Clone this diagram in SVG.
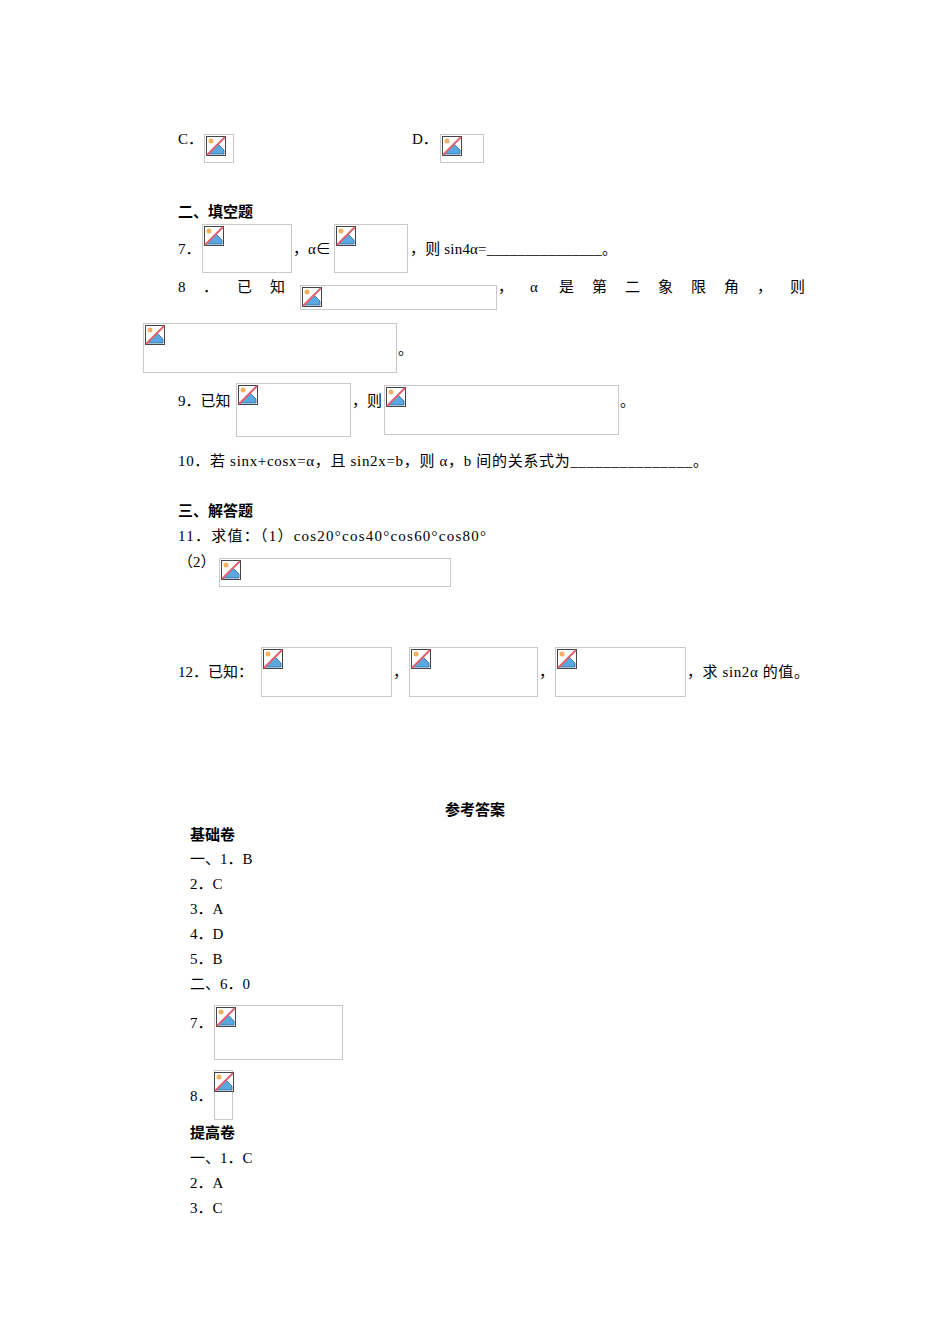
<svg xmlns="http://www.w3.org/2000/svg" width="950" height="1344" viewBox="0 0 950 1344">
<style>
text{font-family:"Liberation Serif","Noto Sans CJK SC",serif;font-size:15px;fill:#000}
.b{font-weight:bold}
.box{fill:#fff;stroke:#c8c8c8;stroke-width:1}
</style>
<defs>
<g id="ic">
<rect x="0.5" y="0.5" width="19" height="19" fill="#fff" stroke="#444"/>
<path d="M2 18 L12 8 L18 14 L18 18 Z" fill="#5aa8e0" stroke="#2a6aa0" stroke-width="0.8"/>
<circle cx="5" cy="5" r="2.5" fill="#f0b060"/>
<line x1="1" y1="19" x2="19" y2="1" stroke="#e06070" stroke-width="2"/>
</g>
</defs>
<rect width="950" height="1344" fill="#fff"/>
<g id="imgs">
<rect class="box" x="204.5" y="134.5" width="29" height="28"/><use href="#ic" x="206" y="136"/>
<rect class="box" x="440.5" y="134.5" width="43" height="28"/><use href="#ic" x="442" y="136"/>
<rect class="box" x="202.5" y="224.5" width="89" height="48"/><use href="#ic" x="204" y="226"/>
<rect class="box" x="334.5" y="224.5" width="73" height="48"/><use href="#ic" x="336" y="226"/>
<rect class="box" x="300.5" y="285.5" width="196" height="24"/><use href="#ic" x="302" y="287"/>
<rect class="box" x="143.5" y="323.5" width="253" height="49"/><use href="#ic" x="145" y="325"/>
<rect class="box" x="236.5" y="383.5" width="114" height="53"/><use href="#ic" x="238" y="385"/>
<rect class="box" x="384.5" y="385.5" width="234" height="49"/><use href="#ic" x="386" y="387"/>
<rect class="box" x="219.5" y="558.5" width="231" height="28"/><use href="#ic" x="221" y="560"/>
<rect class="box" x="261.5" y="647.5" width="130" height="49"/><use href="#ic" x="263" y="649"/>
<rect class="box" x="409.5" y="647.5" width="128" height="49"/><use href="#ic" x="411" y="649"/>
<rect class="box" x="555.5" y="647.5" width="130" height="49"/><use href="#ic" x="557" y="649"/>
<rect class="box" x="214.5" y="1005.5" width="128" height="54"/><use href="#ic" x="216" y="1007"/>
<rect class="box" x="214.5" y="1070.5" width="18" height="49"/><use href="#ic" x="214" y="1072"/>
</g>
<g id="texts">
<text x="178" y="144">C．</text>
<text x="412" y="144">D．</text>
<text x="178" y="217" class="b">二、填空题</text>
<text x="178" y="254">7．</text>
<text x="293" y="254">，α∈</text>
<text x="410" y="254" textLength="207" lengthAdjust="spacing">，则 sin4α=_______________。</text>
<text x="178" y="292">8</text><text x="203" y="292">．</text><text x="237" y="292">已</text><text x="270" y="292">知</text>
<text x="498" y="292">，</text><text x="530" y="292">α</text><text x="559" y="292">是</text><text x="592" y="292">第</text><text x="625" y="292">二</text><text x="658" y="292">象</text><text x="691" y="292">限</text><text x="724" y="292">角</text><text x="757" y="292">，</text><text x="790" y="292">则</text>
<text x="398" y="354">。</text>
<text x="178" y="406">9．已知</text>
<text x="352" y="406">，则</text>
<text x="620" y="406">。</text>
<text x="178" y="466" textLength="530" lengthAdjust="spacing">10．若 sinx+cosx=α，且 sin2x=b，则 α，b 间的关系式为_______________。</text>
<text x="178" y="516" class="b">三、解答题</text>
<text x="178" y="541" textLength="308" lengthAdjust="spacing">11．求值：（1）cos20°cos40°cos60°cos80°</text>
<text x="178" y="567">（2）</text>
<text x="178" y="677">12．已知：</text>
<text x="393" y="677">，</text>
<text x="539" y="677">，</text>
<text x="687" y="677" textLength="122" lengthAdjust="spacing">，求 sin2α 的值。</text>
<text x="475" y="815" class="b" text-anchor="middle">参考答案</text>
<text x="190" y="840" class="b">基础卷</text>
<text x="190" y="864">一、1．B</text>
<text x="190" y="889">2．C</text>
<text x="190" y="914">3．A</text>
<text x="190" y="939">4．D</text>
<text x="190" y="964">5．B</text>
<text x="190" y="989">二、6．0</text>
<text x="190" y="1028">7．</text>
<text x="190" y="1101">8．</text>
<text x="190" y="1138" class="b">提高卷</text>
<text x="190" y="1163">一、1．C</text>
<text x="190" y="1188">2．A</text>
<text x="190" y="1213">3．C</text>
</g>
</svg>
